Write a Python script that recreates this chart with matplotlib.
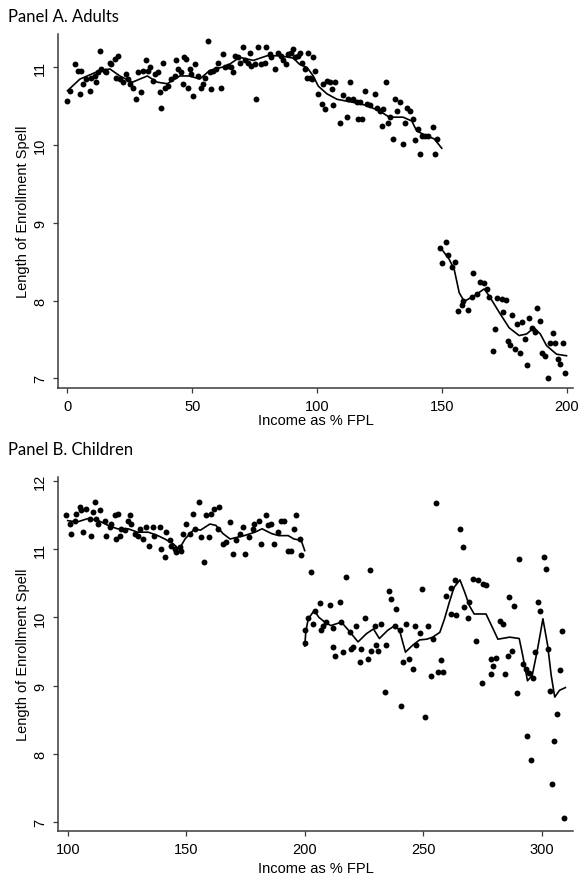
import matplotlib
matplotlib.use("Agg")
import matplotlib.pyplot as plt


# Panel A : adultes (revenu 0-200 % FPL)
adult_x = [0.0, 0.9, 2.9, 4.2, 4.9, 5.5, 6.2, 7.5, 8.9, 9.6, 10.9, 11.6, 12.9, 12.2, 13.6, 14.9,
           15.6, 16.9, 17.6, 18.9, 20.2, 19.6, 20.9, 22.2, 23.6, 24.3, 24.9, 26.3, 27.6, 28.3, 29.6,
           30.2, 31.6, 32.3, 32.9, 34.3, 34.9, 36.3, 37.0, 37.6, 38.3, 38.9, 40.3, 41.6, 43.0, 43.6,
           44.3, 45.6, 46.3, 46.7, 47.6, 48.2, 49.0, 49.6, 50.3, 51.0, 52.3, 53.6, 54.3, 55.0, 56.3,
           57.0, 57.6, 58.3, 59.6, 60.3, 61.6, 62.3, 63.0, 64.3, 65.7, 66.3, 67.0, 68.3, 69.0, 70.3,
           71.0, 72.3, 73.0, 73.7, 75.0, 75.7, 76.3, 77.7, 79.0, 79.7, 81.0, 81.7, 83.0, 84.4, 85.7,
           86.4, 87.7, 88.4, 89.7, 90.4, 91.0, 92.4,
           93.2, 96.5, 98.5, 93.9, 95.2, 95.9, 97.2, 99.2, 97.9, 100.5, 101.9, 103.2, 102.5, 103.9,
           105.9, 105.2, 107.2, 106.6, 110.6, 109.2, 111.9, 113.2, 112.6, 114.6, 115.9, 116.6, 117.9,
           117.2, 119.2, 119.9, 121.2, 123.3, 123.9, 125.3, 125.9, 126.6, 127.7, 128.6, 129.3, 131.3,
           131.9, 133.3, 130.6, 134.6, 135.3, 135.9, 137.3, 138.6, 139.3, 140.6, 141.9, 143.3, 144.6,
           146.6, 148.0, 141.3, 147.3,
           149.3, 151.6, 150.2, 152.6, 155.3, 154.0, 162.4, 165.3, 166.9, 168.0, 169.1, 164.0, 162.0,
           158.6, 158.0, 156.6, 160.7, 172.0, 174.0, 175.8, 174.4, 178.0, 171.3, 170.4, 180.3, 182.0,
           185.1, 188.3, 189.4, 186.0, 187.4, 183.4, 176.4, 177.4, 179.4, 181.4, 184.3, 190.0, 191.4,
           192.5, 194.5, 195.4, 198.5, 193.4, 196.7, 197.4, 199.4]
adult_y = [10.57, 10.70, 11.04, 10.96, 10.66, 10.96, 10.79, 10.85, 10.70, 10.87, 10.89, 10.81, 11.21,
           10.94, 10.98, 10.96, 10.94, 11.06, 11.04, 11.11, 11.15, 10.87, 10.85, 10.81, 10.91, 10.85,
           10.79, 10.74, 10.59, 10.94, 10.68, 10.96, 11.09, 10.96, 11.00, 10.83, 10.91, 10.94, 10.68,
           10.48, 11.06, 10.74, 10.76, 10.85, 10.89, 11.09, 10.98, 10.94, 10.79, 11.13, 11.11, 10.74,
           10.98, 10.91, 10.63, 11.04, 10.89, 10.74, 10.79, 10.87, 11.34, 10.94, 10.72, 10.96, 10.98,
           11.06, 10.74, 11.17, 11.00, 11.02, 11.00, 10.94, 11.15, 11.13, 11.06, 11.26, 11.09, 11.06,
           11.19, 11.02, 11.04, 10.59, 11.26, 11.04, 11.06, 11.26, 11.17, 11.13, 10.98, 11.19, 11.15,
           11.09, 11.04, 11.17, 11.19, 11.24, 11.13, 11.15,
           11.19, 11.19, 11.13, 11.06, 10.98, 10.87, 10.87, 10.96, 10.85, 10.66, 10.53, 10.46, 10.79,
           10.83, 10.72, 10.81, 10.81, 10.51, 10.64, 10.29, 10.36, 10.81, 10.59, 10.59, 10.55, 10.33,
           10.33, 10.55, 10.70, 10.53, 10.51, 10.66, 10.48, 10.44, 10.25, 10.46, 10.81, 10.29, 10.36,
           10.59, 10.44, 10.55, 10.08, 10.01, 10.29, 10.48, 10.44, 10.33, 10.06, 10.21, 10.12, 10.12,
           10.12, 10.23, 10.08, 9.88, 9.88,
           8.67, 8.75, 8.48, 8.58, 8.50, 8.43, 8.35, 8.24, 8.22, 8.15, 8.04, 8.08, 8.05, 8.00, 7.94,
           7.87, 7.88, 8.03, 8.02, 8.01, 7.85, 7.81, 7.64, 7.35, 7.70, 7.73, 7.77, 7.90, 7.74, 7.65,
           7.59, 7.51, 7.48, 7.43, 7.38, 7.33, 7.17, 7.33, 7.29, 7.00, 7.58, 7.45, 7.45, 7.46, 7.25,
           7.19, 7.07]

# Courbe lissée, en deux morceaux (coupure à 150 %)
adult_fit_lo_x = [0, 5, 13, 17, 21, 26, 32, 36, 40, 45, 49, 53, 57, 64, 69, 74.5, 80, 85, 90.5,
                  93, 96, 98.5, 100.5, 104, 108, 114.5, 120, 125, 129, 134.5, 138, 140, 144, 147, 150]
adult_fit_lo_y = [10.70, 10.85, 10.96, 10.98, 10.89, 10.81, 10.89, 10.81, 10.79, 10.89, 10.89,
                  10.85, 10.96, 11.02, 11.13, 11.09, 11.15, 11.15, 11.12, 11.04, 11.00, 10.89,
                  10.76, 10.66, 10.59, 10.55, 10.51, 10.44, 10.36, 10.36, 10.31, 10.18, 10.12,
                  10.08, 9.96]
adult_fit_hi_x = [150, 153, 155, 157, 159, 163, 167, 169, 173, 177, 181, 184, 187, 189.5, 192, 196, 200]
adult_fit_hi_y = [8.66, 8.53, 8.40, 8.10, 7.99, 8.06, 8.15, 8.06, 7.85, 7.65, 7.55, 7.57, 7.65,
                  7.57, 7.42, 7.31, 7.29]

# Panel B : enfants (revenu 100-310 % FPL)
child_x = [99.4, 100.8, 101.5, 102.9, 103.6, 105.0, 105.7, 106.4, 107.9, 109.3, 110.0, 110.7, 111.4,
           112.1, 113.5, 112.8, 115.6, 116.3, 117.7, 118.4, 119.8, 121.2, 120.5, 121.9, 122.6, 124.0,
           125.4, 126.1, 126.8, 128.2, 129.6, 130.3, 131.7, 133.1, 134.5, 135.9, 136.6, 138.8, 139.5,
           140.9, 141.6, 143.0, 143.7, 145.1, 145.8, 147.2, 147.9, 148.6, 150.0, 151.4, 152.8, 153.5,
           155.6, 156.3, 157.7, 158.4, 159.8, 160.5, 161.9, 164.0, 163.3, 165.4, 166.8, 168.3, 169.7,
           171.1, 172.5, 173.9, 174.6, 176.7, 178.1, 178.8, 180.9, 181.6, 183.7, 184.4, 185.8, 187.2,
           188.6, 190.0, 191.4, 192.8, 194.2, 195.6, 196.3, 197.8, 198.5,
           255.5, 265.7, 266.7, 202.8, 217.6, 227.4, 290.6, 300.9, 301.8, 235.5, 236.5, 238.6, 249.6,
           263.2, 261.8, 259.7, 270.9, 273.0, 275.1, 276.6, 286.4, 288.5, 298.3, 299.3, 308.6, 206.3,
           210.5, 214.7, 204.2, 201.4, 203.5, 200.0, 200.0, 207.7, 207.0, 209.1, 211.9, 215.4, 219.0,
           221.8, 225.3, 229.5, 232.3, 237.9, 240.0, 242.8, 246.4, 248.5, 252.0, 254.1, 261.8, 263.9,
           268.8, 269.5, 267.4, 272.3, 282.2, 283.6, 211.9, 212.6, 216.2, 219.7, 220.4, 223.9, 223.2,
           226.7, 228.1, 230.2, 230.9, 234.4, 241.4, 244.2, 245.6, 247.1, 253.4, 256.2, 257.6, 258.3,
           278.7, 279.4, 280.8, 278.7, 274.9, 284.7, 285.7, 287.5, 292.0, 293.4, 294.8, 296.2, 297.3,
           302.5, 307.7, 303.5, 289.6, 233.7, 240.7, 250.6, 306.5, 293.7, 295.5, 304.4, 305.3, 309.6]
child_y = [11.50, 11.37, 11.23, 11.42, 11.52, 11.62, 11.57, 11.25, 11.59, 11.45, 11.20, 11.54, 11.69,
           11.45, 11.57, 11.37, 11.42, 11.20, 11.32, 11.37, 11.50, 11.52, 11.15, 11.20, 11.30, 11.28,
           11.42, 11.50, 11.37, 11.23, 11.20, 11.30, 11.15, 11.32, 11.05, 11.32, 11.20, 11.32, 11.01,
           10.88, 11.25, 11.13, 11.05, 11.01, 10.96, 11.03, 10.98, 11.23, 11.37, 11.23, 11.52, 11.30,
           11.69, 11.18, 10.81, 11.50, 11.18, 11.52, 11.59, 11.62, 11.30, 11.08, 11.10, 11.40, 10.93,
           11.13, 11.23, 11.32, 10.93, 11.18, 11.30, 11.37, 11.42, 11.08, 11.50, 11.35, 11.37, 11.08,
           11.25, 11.42, 11.42, 10.98, 10.98, 11.30, 11.50, 11.15, 10.91,
           11.68, 11.30, 11.04, 10.66, 10.59, 10.70, 10.86, 10.89, 10.71, 10.38, 10.27, 10.12, 10.41,
           10.55, 10.43, 10.31, 10.56, 10.55, 10.49, 10.47, 10.30, 10.17, 10.23, 10.09, 9.80, 10.21,
           10.18, 10.22, 10.09, 9.99, 9.90, 9.81, 9.63, 9.88, 9.81, 9.93, 9.85, 9.93, 9.78,
           9.88, 9.99, 9.88, 9.90, 9.88, 9.81, 9.90, 9.88, 9.77, 9.88, 9.69, 10.05, 10.04,
           9.99, 10.23, 10.15, 9.65, 9.95, 9.90, 9.56, 9.44, 9.49, 9.54, 9.56, 9.54, 9.34,
           9.39, 9.51, 9.59, 9.51, 9.59, 9.35, 9.39, 9.25, 9.59, 9.14, 9.20, 9.37, 9.20,
           9.39, 9.28, 9.40, 9.17, 9.04, 9.17, 9.44, 9.51, 9.32, 9.25, 9.19, 9.11, 9.49,
           9.54, 9.23, 8.92, 8.89, 8.91, 8.70, 8.54, 8.58, 8.26, 7.91, 7.55, 8.19, 7.05]

child_fit_lo_x = [100, 104, 108.5, 113, 117, 121, 125.5, 129.5, 134, 138, 141, 144.5, 147, 149.5,
                  153.5, 156, 160, 162.5, 165.5, 168.5, 172, 174.5, 179, 182, 186, 189, 193, 195.5,
                  198.5, 200]
child_fit_lo_y = [11.42, 11.40, 11.45, 11.42, 11.35, 11.30, 11.30, 11.25, 11.25, 11.20, 11.15,
                  11.08, 11.00, 11.15, 11.30, 11.28, 11.37, 11.35, 11.23, 11.15, 11.18, 11.20,
                  11.25, 11.30, 11.23, 11.20, 11.20, 11.15, 11.13, 10.98]
child_fit_hi_x = [200, 200.5, 201.5, 204, 206, 208.5, 211, 215.5, 218.5, 222.5, 226, 229, 231.5,
                  235, 238, 240, 242.5, 245.5, 248.5, 251.5, 254, 257, 259, 261, 263, 265.5, 267.5,
                  269.5, 271.5, 276.5, 279.5, 281.5, 286.5, 290.5, 292, 294, 296, 298, 299.5, 300.5,
                  302.5, 304, 305.5, 307.5, 310]
child_fit_hi_y = [9.58, 9.80, 9.98, 10.10, 10.00, 9.93, 9.88, 9.93, 9.81, 9.64, 9.76, 9.83, 9.69,
                  9.81, 9.88, 9.81, 9.49, 9.59, 9.67, 9.68, 9.71, 9.78, 9.98, 10.22, 10.44, 10.55,
                  10.37, 10.17, 10.05, 10.05, 9.83, 9.68, 9.71, 9.69, 9.44, 9.07, 9.15, 9.49, 9.78,
                  9.98, 9.59, 9.15, 8.83, 8.93, 8.97]

adult_xticks = [0, 50, 100, 150, 200]
adult_yticks = [7, 8, 9, 10, 11]
child_xticks = [100, 150, 200, 250, 300]
child_yticks = [7, 8, 9, 10, 11, 12]

X_LABEL = "Income as % FPL"
Y_LABEL = "Length of Enrollment Spell"

plt.rcParams["font.family"] = ["Liberation Sans", "DejaVu Sans"]
SPINE = "#3a3a3a"


def style_axis(ax, xticks, yticks, xlabel_y):
	# Axes façon Stata : seulement gauche et bas, étiquettes y tournées
	for side in ("top", "right"):
		ax.spines[side].set_visible(False)
	for side in ("left", "bottom"):
		ax.spines[side].set_color(SPINE)
		ax.spines[side].set_linewidth(1.1)
	ax.set_xticks(xticks)
	ax.set_yticks(yticks)
	ax.tick_params(direction="out", length=3.8, width=0.9, color=SPINE, labelsize=10.5, pad=4)
	ax.tick_params(axis="y", labelrotation=90)
	for lab in ax.get_yticklabels():
		lab.set_va("center")
	ax.set_xlabel(X_LABEL, fontsize=10.5, va="center")
	ax.xaxis.set_label_coords(0.5, xlabel_y)
	ax.set_ylabel(Y_LABEL, fontsize=10.5, va="center")
	ax.yaxis.set_label_coords(-0.068, 0.5)


def draw_panel(ax, xs, ys, fits):
	ax.scatter(xs, ys, s=18, color="black", linewidths=0, zorder=2)
	for fx, fy in fits:
		ax.plot(fx, fy, color="black", linewidth=1.2, zorder=3)


def main():
	fig = plt.figure(figsize=(5.79, 8.78), dpi=100)

	ax_a = fig.add_axes([58 / 579, 1 - 389 / 878, 515 / 579, 354 / 878])
	draw_panel(ax_a, adult_x, adult_y,
	           [(adult_fit_lo_x, adult_fit_lo_y), (adult_fit_hi_x, adult_fit_hi_y)])
	ax_a.set_xlim(-3.8, 202.6)
	ax_a.set_ylim(6.875, 11.43)
	style_axis(ax_a, adult_xticks, adult_yticks, -0.09)

	ax_b = fig.add_axes([58 / 579, 1 - 831.7 / 878, 515 / 579, 353.7 / 878])
	draw_panel(ax_b, child_x, child_y,
	           [(child_fit_lo_x, child_fit_lo_y), (child_fit_hi_x, child_fit_hi_y)])
	ax_b.set_xlim(95.9, 313.2)
	ax_b.set_ylim(6.87, 12.06)
	style_axis(ax_b, child_xticks, child_yticks, -0.105)

	# Titres des panneaux (police différente, type Calibri)
	title_font = ["Lato", "DejaVu Sans"]
	fig.text(8 / 579, 1 - 17 / 878, "Panel A. Adults", family=title_font, fontsize=12,
	         ha="left", va="center")
	fig.text(8 / 579, 1 - 450 / 878, "Panel B. Children", family=title_font, fontsize=12,
	         ha="left", va="center")

	fig.savefig("out.png", dpi=100, facecolor="white")


if __name__ == "__main__":
	main()
